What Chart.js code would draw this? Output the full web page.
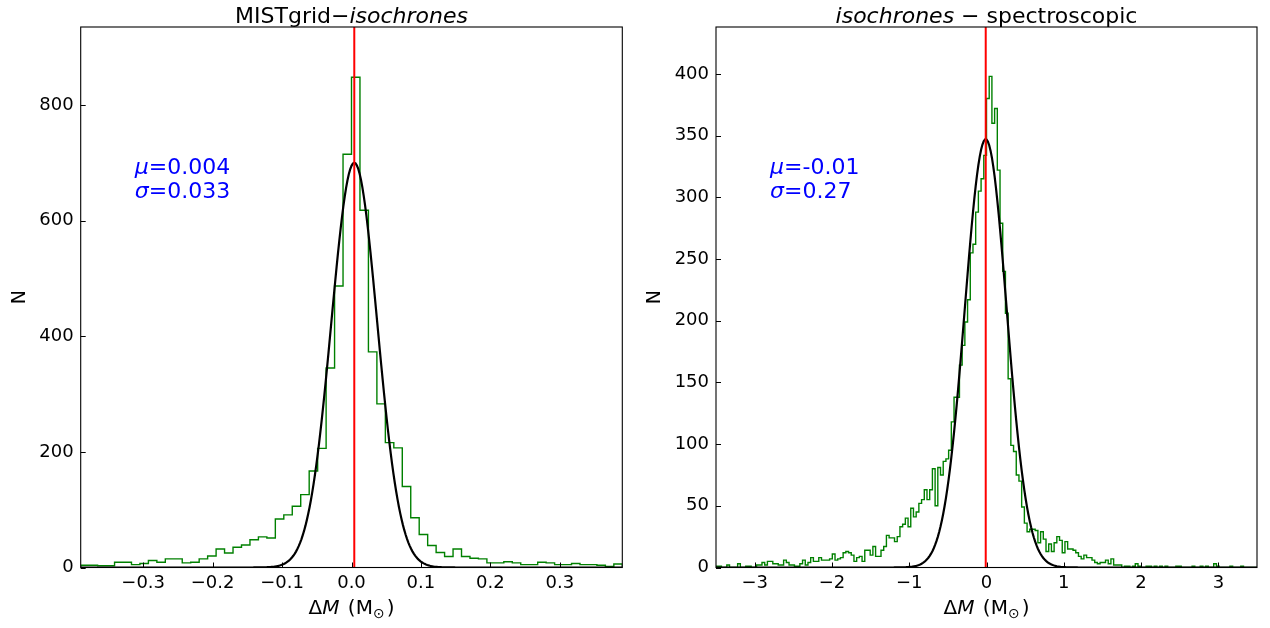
<!DOCTYPE html>
<html>
<head>
<meta charset="utf-8">
<script src="https://cdn.jsdelivr.net/npm/chart.js@4.4.1/dist/chart.umd.min.js"></script>
<style>
html, body { margin: 0; padding: 0; background: #fff; }
#wrap { position: relative; width: 1270px; height: 628px; overflow: hidden; }
canvas { position: absolute; top: 0; }
</style>
</head>
<body>
<div id="wrap">
  <canvas id="left" width="635" height="628" style="left:0"></canvas>
  <canvas id="right" width="635" height="628" style="left:635px"></canvas>
</div>
<script>
// left panel: MISTgrid - isochrones
const leftRange = [-0.39, 0.39];
const leftCounts = [4, 4, 3, 3, 9, 9, 5, 7, 12, 9,
    15, 15, 8, 9, 15, 20, 32, 25, 35, 39,
    48, 53, 51, 84, 91, 106, 126, 167, 206, 345,
    487, 715, 848, 618, 373, 283, 216, 207, 140, 86,
    57, 38, 26, 19, 32, 19, 16, 15, 8, 8,
    10, 8, 5, 5, 9, 8, 5, 5, 7, 5,
    5, 4, 2, 6];
const leftXTicks = [-0.3, -0.2, -0.1, 0, 0.1, 0.2, 0.3];
const leftXLabels = ["\u22120.3", "\u22120.2", "\u22120.1", "0.0", "0.1", "0.2", "0.3"];
const leftYTicks = [0, 200, 400, 600, 800];
const leftYMax = 935;
const leftFit = { mu: 0.004, sigma: 0.033, amp: 700 };
const leftNotes = ["=0.004", "=0.033"];

// right panel: isochrones - spectroscopic
const rightRange = [-3.5, 3.5];
const rightCounts = [1, 1, 0, 0, 2, 0, 0, 0, 3, 0,
    0, 1, 1, 0, 0, 2, 2, 4, 2, 5,
    5, 3, 3, 2, 2, 6, 4, 2, 2, 1,
    1, 3, 6, 2, 4, 8, 5, 5, 8, 6,
    6, 6, 7, 11, 6, 7, 8, 12, 13, 12,
    10, 5, 8, 9, 5, 14, 14, 10, 17, 9,
    9, 14, 17, 26, 24, 24, 21, 25, 33, 35,
    40, 33, 48, 41, 45, 52, 55, 63, 55, 63,
    80, 50, 81, 75, 86, 88, 95, 118, 138, 138,
    164, 180, 199, 217, 255, 262, 288, 305, 315, 334,
    380, 398, 360, 372, 322, 279, 240, 206, 153, 99,
    94, 75, 70, 49, 36, 29, 31, 31, 30, 20,
    29, 23, 13, 19, 13, 20, 25, 22, 12, 21,
    15, 15, 14, 12, 9, 7, 10, 8, 8, 6,
    4, 3, 4, 4, 6, 3, 7, 2, 2, 2,
    0, 1, 1, 0, 1, 3, 1, 0, 0, 1,
    1, 0, 1, 0, 1, 0, 1, 0, 0, 0,
    1, 1, 0, 0, 0, 0, 1, 0, 0, 1,
    0, 1, 0, 0, 3, 1, 0, 0, 0, 0,
    1, 0, 0, 0, 1, 0, 0, 0, 0, 0];
const rightXTicks = [-3, -2, -1, 0, 1, 2, 3];
const rightXLabels = ["\u22123", "\u22122", "\u22121", "0", "1", "2", "3"];
const rightYTicks = [0, 50, 100, 150, 200, 250, 300, 350, 400];
const rightYMax = 438;
const rightFit = { mu: -0.01, sigma: 0.27, amp: 347 };
const rightNotes = ["=-0.01", "=0.27"];

const FONT = '"DejaVu Sans", "Liberation Sans", sans-serif';

function stepPoints(range, counts) {
    const w = (range[1] - range[0]) / counts.length;
    const pts = [{ x: range[0], y: 0 }];
    counts.forEach((c, i) => pts.push({ x: range[0] + i * w, y: c }));
    pts.push({ x: range[1], y: 0 });
    return pts;
}

function gaussPoints(range, fit) {
    const pts = [];
    for (let i = 0; i <= 400; i++) {
        const x = range[0] + (range[1] - range[0]) * i / 400;
        pts.push({ x: x, y: fit.amp * Math.exp(-0.5 * Math.pow((x - fit.mu) / fit.sigma, 2)) });
    }
    return pts;
}

// draws a row of text pieces, some italic
function drawRuns(ctx, runs, x, y, size, color, align) {
    const fontOf = r => (r.it ? "italic " : "") + (r.size || size) + "px " + FONT;
    let total = 0;
    runs.forEach(r => { ctx.font = fontOf(r); total += ctx.measureText(r.t).width + (r.gap || 0); });
    let cx = align === "center" ? x - total / 2 : x;
    ctx.fillStyle = color;
    ctx.textAlign = "left";
    ctx.textBaseline = "alphabetic";
    runs.forEach(r => {
        ctx.font = fontOf(r);
        ctx.fillText(r.t, cx, y + (r.dy || 0));
        cx += ctx.measureText(r.t).width + (r.gap || 0);
    });
}

const panelPlugin = {
    id: "panel",
    afterDraw(chart) {
        const cfg = chart.options.plugins.panel;
        const ctx = chart.ctx;
        const a = chart.chartArea;
        const xs = chart.scales.x, ys = chart.scales.y;
        ctx.save();
        // inward ticks
        ctx.strokeStyle = "#000";
        ctx.lineWidth = 1;
        ctx.beginPath();
        xs.ticks.forEach(t => {
            const px = Math.round(xs.getPixelForValue(t.value)) + 0.5;
            ctx.moveTo(px, a.bottom);
            ctx.lineTo(px, a.bottom - 5);
        });
        ys.ticks.forEach(t => {
            const py = Math.round(ys.getPixelForValue(t.value)) + 0.5;
            ctx.moveTo(a.left, py);
            ctx.lineTo(a.left + 5, py);
        });
        ctx.stroke();
        // frame
        ctx.lineWidth = 1.1;
        ctx.strokeRect(a.left, a.top, a.right - a.left, a.bottom - a.top);

        const cx = (a.left + a.right) / 2;
        drawRuns(ctx, cfg.title, cx, 23, 22, "#000", "center");
        drawRuns(ctx, [{ t: "\u0394" }, { t: "M", it: true, gap: 2 }, { t: " (M" },
                       { t: "\u2299", size: 14, dy: 4, gap: 2 }, { t: ")" }],
            cx, 614, 20, "#000", "center");

        ctx.save();
        ctx.translate(25, (a.top + a.bottom) / 2);
        ctx.rotate(-Math.PI / 2);
        drawRuns(ctx, [{ t: "N" }], 0, 0, 19, "#000", "center");
        ctx.restore();

        const nx = xs.getPixelForValue(cfg.noteAt[0]);
        const ny = ys.getPixelForValue(cfg.noteAt[1]);
        drawRuns(ctx, [{ t: "\u03bc", it: true }, { t: cfg.notes[0] }], nx, ny, 22, "#0000ff", "left");
        drawRuns(ctx, [{ t: "\u03c3", it: true }, { t: cfg.notes[1] }], nx, ny + 24, 22, "#0000ff", "left");
        ctx.restore();
    }
};

function makeChart(id, cfg) {
    const tickFont = { family: FONT, size: 18 };
    return new Chart(document.getElementById(id), {
        type: "line",
        data: {
            datasets: [
                { data: [{ x: cfg.fit.mu, y: 0 }, { x: cfg.fit.mu, y: cfg.yMax }],
                  borderColor: "#ff0000", borderWidth: 2, pointRadius: 0 },
                { data: gaussPoints(cfg.range, cfg.fit),
                  borderColor: "#000000", borderWidth: 2.2, pointRadius: 0, tension: 0 },
                { data: stepPoints(cfg.range, cfg.counts),
                  borderColor: "#008000", borderWidth: 1.4, pointRadius: 0, stepped: "before" }
            ]
        },
        options: {
            responsive: false,
            animation: false,
            events: [],
            layout: { padding: { left: 0, top: 27, right: cfg.padRight, bottom: 0 } },
            plugins: {
                legend: { display: false },
                tooltip: { enabled: false },
                panel: cfg
            },
            scales: {
                x: {
                    type: "linear",
                    min: cfg.range[0],
                    max: cfg.range[1],
                    grid: { display: false, drawTicks: false },
                    border: { display: false },
                    afterBuildTicks: s => { s.ticks = cfg.xTicks.map(v => ({ value: v })); },
                    afterFit: s => { s.height = 60.5; },
                    ticks: {
                        padding: 5, autoSkip: false, maxRotation: 0,
                        font: tickFont, color: "#000",
                        callback: (v, i) => cfg.xLabels[i]
                    }
                },
                y: {
                    min: 0,
                    max: cfg.yMax,
                    grid: { display: false, drawTicks: false },
                    border: { display: false },
                    afterBuildTicks: s => { s.ticks = cfg.yTicks.map(v => ({ value: v })); },
                    afterFit: s => { s.width = cfg.yWidth; },
                    ticks: {
                        padding: 7, font: tickFont, color: "#000",
                        callback: v => String(v)
                    }
                }
            }
        },
        plugins: [panelPlugin]
    });
}

makeChart("left", {
    range: leftRange, counts: leftCounts, fit: leftFit, yMax: leftYMax,
    xTicks: leftXTicks, xLabels: leftXLabels, yTicks: leftYTicks,
    notes: leftNotes, noteAt: [-0.312, 681],
    title: [{ t: "MISTgrid" }, { t: "\u2212" }, { t: "isochrones", it: true }],
    yWidth: 80.7, padRight: 12.7
});

makeChart("right", {
    range: rightRange, counts: rightCounts, fit: rightFit, yMax: rightYMax,
    xTicks: rightXTicks, xLabels: rightXLabels, yTicks: rightYTicks,
    notes: rightNotes, noteAt: [-2.80, 318.7],
    title: [{ t: "isochrones", it: true }, { t: " \u2212 " }, { t: "spectroscopic" }],
    yWidth: 81, padRight: 13
});
</script>
</body>
</html>
